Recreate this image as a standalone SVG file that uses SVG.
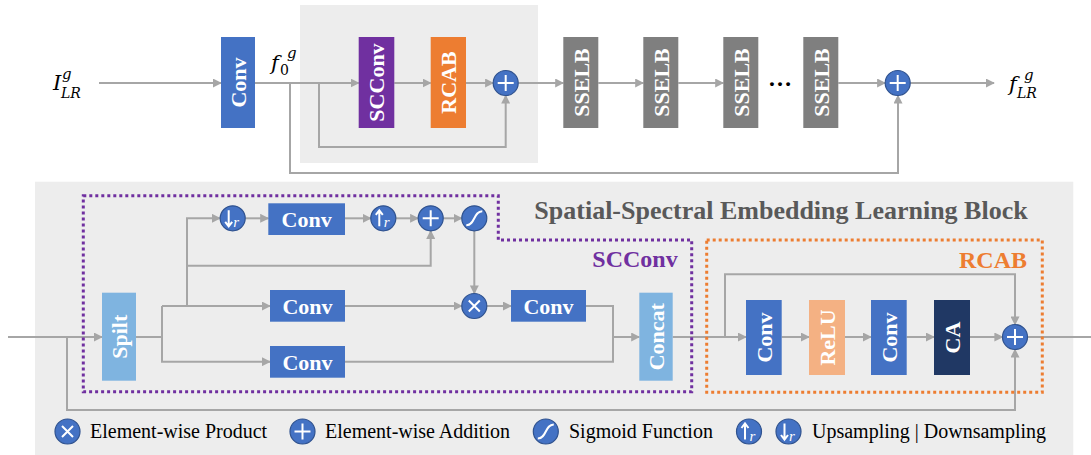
<svg xmlns="http://www.w3.org/2000/svg" width="1091" height="455" viewBox="0 0 1091 455">
<style>
.ln{fill:none;stroke:#A6A6A6;stroke-width:2}
.ar{marker-end:url(#ah)}
.bx{font-family:"Liberation Serif",serif;font-weight:bold;font-size:22px;fill:#fff;text-anchor:middle}
.math{font-family:"DejaVu Serif","Liberation Serif",serif;font-style:italic;fill:#000}
.circ{fill:#4472C4;stroke:#2F528F;stroke-width:1.2}
.sym{fill:none;stroke:#fff;stroke-width:2}
.rr{font-family:"Liberation Serif",serif;font-style:italic;font-size:15px;fill:#fff}
.leg{font-family:"Liberation Serif",serif;font-size:20px;fill:#000}
</style>
<defs>
<marker id="ah" viewBox="0 0 10 10" refX="9" refY="5" markerWidth="4.5" markerHeight="4.5" orient="auto" markerUnits="strokeWidth">
<path d="M0,0 L10,5 L0,10 Z" fill="#A6A6A6"/>
</marker>
<g id="plus"><circle r="12.5" class="circ"/><path d="M-8,0 H8 M0,-8 V8" class="sym"/></g>
<g id="times"><circle r="12.5" class="circ"/><path d="M-5.5,-5.5 L5.5,5.5 M5.5,-5.5 L-5.5,5.5" class="sym" stroke-width="3"/></g>
<g id="sig"><circle r="12.5" class="circ"/><path d="M-8,7 C1,7 -1,-7 8,-7" class="sym"/></g>
<g id="up"><circle r="12.5" class="circ"/><path d="M-4,8 V-7 M-7.5,-3.5 L-4,-8 L-0.5,-3.5" class="sym" stroke-width="1.6"/><text x="0.5" y="9" class="rr">r</text></g>
<g id="down"><circle r="12.5" class="circ"/><path d="M-4,-8 V7 M-7.5,3.5 L-4,8 L-0.5,3.5" class="sym" stroke-width="1.6"/><text x="0.5" y="9" class="rr">r</text></g>
</defs>
<rect width="1091" height="455" fill="#fff"/>
<rect x="300" y="5" width="238" height="158" fill="#EDEDED"/>
<rect x="35" y="181.7" width="1038.3" height="273.3" fill="#EDEDED"/>

<g id="connectors">
<path class="ln ar" d="M99,83 H221"/>
<path class="ln ar" d="M255,83 H358.7"/>
<path class="ln ar" d="M290,83 V173 H898 V95.5"/>
<path class="ln ar" d="M319,83 V147 H505.7 V95.5"/>
<path class="ln ar" d="M394.3,83 H430.7"/>
<path class="ln ar" d="M466,83 H493.2"/>
<path class="ln ar" d="M518.2,83 H563.3"/>
<path class="ln ar" d="M598.3,83 H643.3"/>
<path class="ln ar" d="M678.3,83 H723.3"/>
<path class="ln ar" d="M838.3,83 H885.2"/>
<path class="ln ar" d="M910.2,83 H994"/>

<path class="ln ar" d="M8,337 H102"/>
<path class="ln ar" d="M67,337 V410 H1015 V349.5"/>
<path class="ln" d="M136,337 H162"/>
<path class="ln ar" d="M162,306 H270"/>
<path class="ln ar" d="M162,306 V361.7 H270"/>
<path class="ln ar" d="M187,306 V218.3 H220"/>
<path class="ln ar" d="M187,265.7 H430.7 V230.8"/>
<path class="ln ar" d="M245.2,218.3 H268.3"/>
<path class="ln ar" d="M345,218.3 H370.8"/>
<path class="ln ar" d="M395.8,218.3 H418.2"/>
<path class="ln ar" d="M443.2,218.3 H461.8"/>
<path class="ln ar" d="M474.3,230.8 V293.5"/>
<path class="ln ar" d="M345,306 H461.8"/>
<path class="ln ar" d="M486.8,306 H511"/>
<path class="ln" d="M586,306 H613 V361.7 H345"/>
<path class="ln ar" d="M613,337 H639.3"/>
<path class="ln ar" d="M672.7,337 H746"/>
<path class="ln ar" d="M725,337 V274.3 H1015 V324.5"/>
<path class="ln ar" d="M781.7,337 H809"/>
<path class="ln ar" d="M845,337 H871"/>
<path class="ln ar" d="M906.7,337 H934"/>
<path class="ln ar" d="M970,337 H1002.5"/>
<path class="ln" d="M1027.5,337 H1091"/>
</g>

<g id="label-ILR"><text class="math" x="53" y="90" font-size="21">I</text><text class="math" x="62" y="79" font-size="15">g</text><text class="math" x="61" y="98" font-size="14">LR</text></g>
<g id="conv-top"><rect x="221" y="37" width="34" height="91" fill="#4472C4"/><text class="bx" transform="translate(245.5,82.5) rotate(-90)">Conv</text></g>
<g id="label-f0"><text class="math" x="271" y="70" font-size="21">f</text><text x="280" y="75" font-size="14" font-family="DejaVu Serif,serif" fill="#000">0</text><text class="math" x="287" y="58" font-size="15">g</text></g>
<g id="scconv-top"><rect x="358.7" y="37" width="35.6" height="91" fill="#7030A0"/><text class="bx" transform="translate(384,82.5) rotate(-90)">SCConv</text></g>
<g id="rcab-top"><rect x="430.7" y="37" width="35.3" height="91" fill="#ED7D31"/><text class="bx" transform="translate(456,82.5) rotate(-90)">RCAB</text></g>
<g id="plus-top1"><use href="#plus" x="505.7" y="83"/></g>
<g id="sselb1"><rect x="563.3" y="37" width="35" height="91" fill="#7F7F7F"/><text class="bx" transform="translate(588.5,82.5) rotate(-90)">SSELB</text></g>
<g id="sselb2"><rect x="643.3" y="37" width="35" height="91" fill="#7F7F7F"/><text class="bx" transform="translate(668.5,82.5) rotate(-90)">SSELB</text></g>
<g id="sselb3"><rect x="723.3" y="37" width="35" height="91" fill="#7F7F7F"/><text class="bx" transform="translate(748.5,82.5) rotate(-90)">SSELB</text></g>
<g id="dots"><text x="780" y="86" font-family="Liberation Serif,serif" font-weight="bold" font-size="24" text-anchor="middle" fill="#000">…</text></g>
<g id="sselb4"><rect x="803.3" y="37" width="35" height="91" fill="#7F7F7F"/><text class="bx" transform="translate(828.5,82.5) rotate(-90)">SSELB</text></g>
<g id="plus-top2"><use href="#plus" x="897.7" y="83"/></g>
<g id="label-fLR"><text class="math" x="1009" y="91" font-size="21">f</text><text class="math" x="1024" y="80" font-size="15">g</text><text class="math" x="1017" y="98" font-size="14">LR</text></g>

<g id="sselb-title"><text x="781" y="219" font-family="Liberation Serif,serif" font-weight="bold" font-size="26" fill="#595959" text-anchor="middle">Spatial-Spectral Embedding Learning Block</text></g>
<g id="scconv-frame"><path d="M83.3,195.7 H498.3 V240 H691.7 V391.7 H83.3 Z" fill="none" stroke="#7030A0" stroke-width="3" stroke-dasharray="3 3"/><text x="635" y="267" font-family="Liberation Serif,serif" font-weight="bold" font-size="24" fill="#7030A0" text-anchor="middle">SCConv</text></g>
<g id="rcab-frame"><rect x="706.7" y="240" width="335.6" height="152.3" fill="none" stroke="#ED7D31" stroke-width="3" stroke-dasharray="3 3"/><text x="993" y="268" font-family="Liberation Serif,serif" font-weight="bold" font-size="24" fill="#ED7D31" text-anchor="middle">RCAB</text></g>

<g id="split"><rect x="102" y="292.7" width="34" height="88" fill="#7FB4E0"/><text class="bx" transform="translate(126.5,336.7) rotate(-90)">Spilt</text></g>
<g id="down-op"><use href="#down" x="232.7" y="218.3"/></g>
<g id="conv1"><rect x="268.3" y="203.3" width="76.7" height="31.7" fill="#4472C4"/><text class="bx" x="306.6" y="226.5">Conv</text></g>
<g id="up-op"><use href="#up" x="383.3" y="218.3"/></g>
<g id="plus-sc"><use href="#plus" x="430.7" y="218.3"/></g>
<g id="sig-op"><use href="#sig" x="474.3" y="218.3"/></g>
<g id="conv2"><rect x="270" y="290" width="75" height="31.7" fill="#4472C4"/><text class="bx" x="307.5" y="313.5">Conv</text></g>
<g id="times-op"><use href="#times" x="474.3" y="306"/></g>
<g id="conv4"><rect x="511" y="290" width="75" height="31.7" fill="#4472C4"/><text class="bx" x="548.5" y="313.5">Conv</text></g>
<g id="conv3"><rect x="270" y="346" width="75" height="31.7" fill="#4472C4"/><text class="bx" x="307.5" y="369.5">Conv</text></g>
<g id="concat"><rect x="639.3" y="292.7" width="33.4" height="88" fill="#7FB4E0"/><text class="bx" transform="translate(663.5,336.7) rotate(-90)">Concat</text></g>
<g id="conv5"><rect x="746" y="300" width="35.7" height="75" fill="#4472C4"/><text class="bx" transform="translate(771.5,337.5) rotate(-90)">Conv</text></g>
<g id="relu"><rect x="809" y="300" width="36" height="75" fill="#F4B183"/><text class="bx" transform="translate(834.5,337.5) rotate(-90)">ReLU</text></g>
<g id="conv6"><rect x="871" y="300" width="35.7" height="75" fill="#4472C4"/><text class="bx" transform="translate(896.5,337.5) rotate(-90)">Conv</text></g>
<g id="ca"><rect x="934" y="300" width="36" height="75" fill="#203864"/><text class="bx" transform="translate(959.5,337.5) rotate(-90)">CA</text></g>
<g id="plus-rcab"><use href="#plus" x="1015" y="337"/></g>

<g id="legend">
<use href="#times" x="67.5" y="431.5"/><text class="leg" x="90" y="438">Element-wise Product</text>
<use href="#plus" x="302.5" y="431.5"/><text class="leg" x="325" y="438">Element-wise Addition</text>
<use href="#sig" x="545.8" y="431.5"/><text class="leg" x="569" y="438">Sigmoid Function</text>
<use href="#up" x="749" y="431.5"/><use href="#down" x="788.5" y="431.5"/><text class="leg" x="812" y="438">Upsampling | Downsampling</text>
</g>
</svg>
